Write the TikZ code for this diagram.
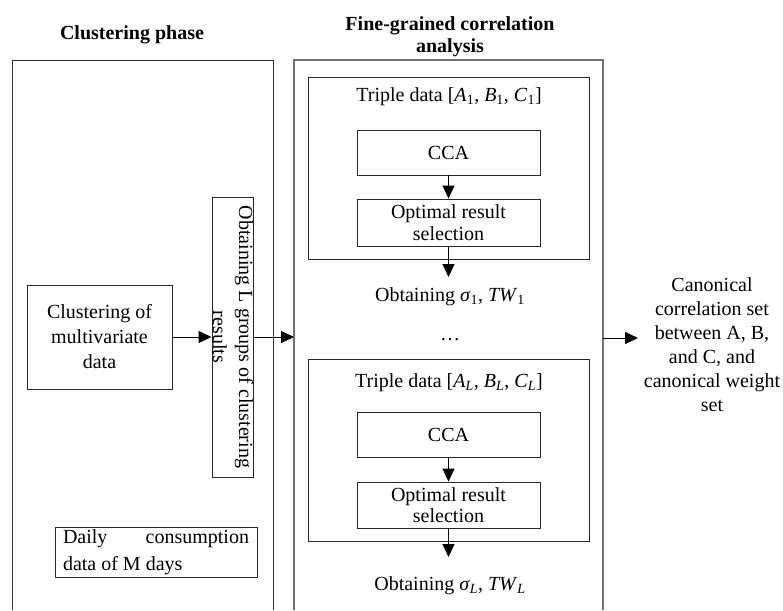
\documentclass[tikz,border=0pt]{standalone}
\usepackage{fontspec}
\setmainfont{Liberation Serif}
\usetikzlibrary{arrows.meta}
\newcommand{\sub}[1]{\textsubscript{#1}}
\begin{document}
\begin{tikzpicture}[x=1pt,y=-1pt,
  every node/.style={font=\fontsize{20}{24}\selectfont, inner sep=0pt},
  box/.style={draw=black!85, line width=0.9pt},
  panelL/.style={draw=black!80, line width=1pt},
  panelR/.style={draw=black!55, line width=1.4pt},
  arr/.style={-{Triangle[length=13pt,width=12pt]}, line width=0.9pt},
  title/.style={font=\fontsize{20}{22}\selectfont\bfseries, align=center},
  txt/.style={align=center}]
\useasboundingbox (0,0) rectangle (783,610);

% titles of the two phases
\node[title] (t1) at (132,35) {Clustering phase};
\node[title] (t2) at (450,37) {Fine-grained correlation\\analysis};

% phase frames (open at the bottom edge)
\draw[panelL] (12,610) |- (273,60) -- (273,610);
\draw[panelR] (294,610) |- (603,60) -- (603,610);
\coordinate (pIn) at (294,337);
\coordinate (pOut) at (603,338);

% clustering phase
\node[box, minimum width=145, minimum height=104, txt,
      font=\fontsize{20}{25}\selectfont] (clu) at (99.5,337)
      {Clustering of\\multivariate\\data};
\node[box, minimum width=41, minimum height=280] (grp) at (232.5,337) {};
\node[rotate=-90, txt, font=\fontsize{20}{26}\selectfont] (grpT) at (233,337)
      {Obtaining L groups of clustering\\results};
\node[box, minimum width=202, minimum height=50] (daily) at (156,552)
      {\parbox{186pt}{Daily\hfill consumption\\[3pt]data of M days\hfill}};

\draw[arr] (clu.east) -- (grp.west);
\draw[arr] (grp.east) -- (pIn);

% first triple
\node[box, minimum width=281, minimum height=182] (tb1) at (448.5,168) {};
\node (tr1) at (449,97) {Triple data [\textit{A}\sub{1}, \textit{B}\sub{1}, \textit{C}\sub{1}]};
\node[box, minimum width=183, minimum height=45] (cca1) at (448.5,152.5) {CCA};
\node[box, minimum width=183, minimum height=47, txt,
      font=\fontsize{20}{21.5}\selectfont] (opt1) at (448.5,222.5)
      {Optimal result\\selection};
\coordinate (e1) at (448.5,277);
\node (ob1) at (450,297) {Obtaining \textit{σ}\sub{1}, \textit{TW}\sub{1}};
\draw[arr] (cca1.south) -- (opt1.north);
\draw[arr] (opt1.south) -- (e1);

\node (dots) at (450,340) {\ldots};

% last triple
\node[box, minimum width=281, minimum height=182] (tbL) at (448.5,450) {};
\node (trL) at (449,383) {Triple data [\textit{A}\sub{\textit{L}}, \textit{B}\sub{\textit{L}}, \textit{C}\sub{\textit{L}}]};
\node[box, minimum width=183, minimum height=45] (ccaL) at (448.5,434.5) {CCA};
\node[box, minimum width=183, minimum height=46, txt,
      font=\fontsize{20}{21.5}\selectfont] (optL) at (448.5,505)
      {Optimal result\\selection};
\coordinate (eL) at (448.5,557);
\node (obL) at (450,586) {Obtaining \textit{σ}\sub{\textit{L}}, \textit{TW}\sub{\textit{L}}};
\draw[arr] (ccaL.south) -- (optL.north);
\draw[arr] (optL.south) -- (eL);

% output
\node[txt] (res) at (712,345)
      {Canonical\\correlation set\\between A, B,\\and C, and\\canonical weight\\set};
\coordinate (oTip) at (638,338);
\draw[arr] (pOut) -- (oTip);
\end{tikzpicture}
\end{document}
